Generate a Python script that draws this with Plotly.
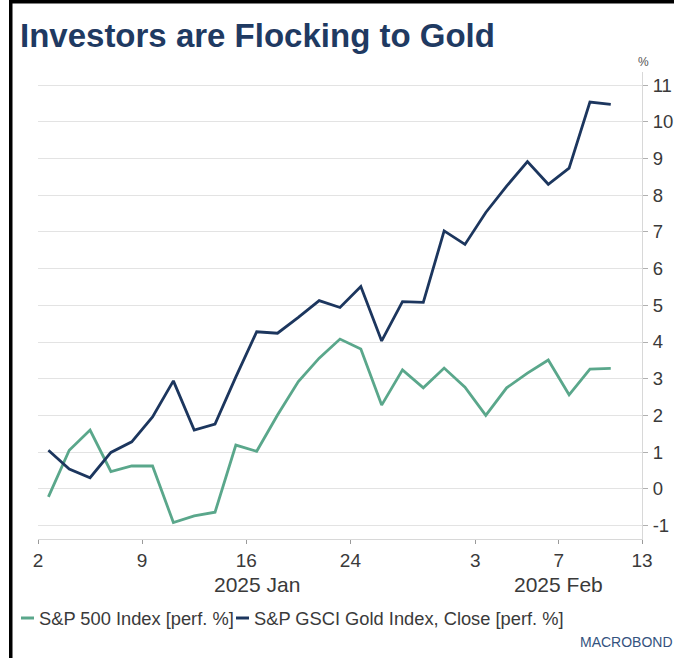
import pandas as pd
import plotly.graph_objects as go

# ---------------- data ----------------
title_text = "Investors are Flocking to Gold"
series_names = ["S&P 500 Index [perf. %]", "S&P GSCI Gold Index, Close [perf. %]"]

sp500_perf = [-0.22, 1.05, 1.60, 0.47, 0.62, 0.62, -0.92, -0.74, -0.64, 1.19,
              1.02, 2.01, 2.92, 3.56, 4.08, 3.81, 2.28, 3.24, 2.75, 3.29,
              2.77, 2.00, 2.75, 3.15, 3.51, 2.56, 3.26, 3.28]
gold_perf = [1.05, 0.54, 0.30, 0.99, 1.28, 1.96, 2.94, 1.60, 1.76, 3.05,
             4.28, 4.24, 4.67, 5.13, 4.94, 5.51, 4.03, 5.10, 5.08, 7.03,
             6.66, 7.53, 8.25, 8.92, 8.30, 8.74, 10.54, 10.48]

axis_start = "2025-01-02"
axis_end = "2025-02-13"
market_holidays = ["2025-01-20"]
x_tick_dates = ["2025-01-02", "2025-01-09", "2025-01-16", "2025-01-24",
                "2025-02-03", "2025-02-07", "2025-02-13"]
x_tick_labels = ["2", "9", "16", "24", "3", "7", "13"]
month_labels = ["2025 Jan", "2025 Feb"]
month_starts = ["2025-01-02", "2025-02-03"]
y_tick_values = list(range(-1, 12))
y_tick_labels = [str(v) for v in y_tick_values]

# ---------------- styles ----------------
GREEN = "#5aa78b"
NAVY = "#1c365e"
TITLE_COLOR = "#1f3a62"
TEXT = "#3a3a3a"
GRID = "#e3e3e3"
FONT = "Liberation Sans, Arial, sans-serif"

W, H = 674, 658
ML, MR, MT, MB = 38, 32, 72, 119
PW, PH = W - ML - MR, H - MT - MB


def px_x(x):
    return (x - ML) / PW


def px_y(y):
    return (H - MB - y) / PH


# trading-day slots (axis is a business-day axis, ticks sit at slot starts)
slots = [d for d in pd.bdate_range(axis_start, axis_end)
         if d.strftime("%Y-%m-%d") not in market_holidays]
slot_index = {d.strftime("%Y-%m-%d"): i for i, d in enumerate(slots)}
data_dates = [d.strftime("%Y-%m-%d") for d in slots[:len(sp500_perf)]]
x_idx = list(range(len(sp500_perf)))

fig = go.Figure()
fig.add_trace(go.Scatter(x=x_idx, y=sp500_perf, mode="lines", name=series_names[0],
                         customdata=data_dates,
                         hovertemplate="%{customdata}: %{y:.2f}%<extra></extra>",
                         line=dict(color=GREEN, width=2.8)))
fig.add_trace(go.Scatter(x=x_idx, y=gold_perf, mode="lines", name=series_names[1],
                         customdata=data_dates,
                         hovertemplate="%{customdata}: %{y:.2f}%<extra></extra>",
                         line=dict(color=NAVY, width=2.8)))

tickvals_x = [slot_index[d] - 0.5 for d in x_tick_dates]
x_range = [-0.5, slot_index[axis_end] - 0.5]

fig.update_layout(
    width=W, height=H,
    margin=dict(l=ML, r=MR, t=MT, b=MB, pad=0, autoexpand=False),
    paper_bgcolor="white", plot_bgcolor="white",
    showlegend=False,
    font=dict(family=FONT, color=TEXT),
    xaxis=dict(range=x_range, tickvals=tickvals_x, ticktext=x_tick_labels,
               showgrid=False, zeroline=False, showline=True, linecolor="#d8d8d8",
               linewidth=1, ticks="outside", ticklen=4, tickcolor="#9a9a9a",
               automargin=False,
               tickfont=dict(size=19, color=TEXT, family=FONT)),
    yaxis=dict(range=[-1.37, 11.36], side="right", tickvals=y_tick_values,
               ticktext=y_tick_labels, showgrid=True, gridcolor=GRID, gridwidth=1,
               zeroline=False, showline=True, linecolor="#d8d8d8", linewidth=1,
               ticks="outside", ticklen=5, tickcolor="#b0b0b0",
               ticklabelstandoff=1, automargin=False,
               tickfont=dict(size=18.5, color=TEXT, family=FONT)),
)

ann = []
# title
ann.append(dict(x=px_x(18), y=px_y(35), xref="paper", yref="paper",
                xanchor="left", yanchor="middle", showarrow=False,
                text=title_text,
                font=dict(size=33, color=TITLE_COLOR, family=FONT, weight="bold")))
# unit label
ann.append(dict(x=px_x(643), y=px_y(62), xref="paper", yref="paper",
                xanchor="center", yanchor="middle", showarrow=False, text="%",
                font=dict(size=12, color="#555555", family=FONT)))
# month labels centred on each month's span of slots
month_ends = [slot_index[month_starts[1]], slot_index[axis_end]]
for lbl, start, end_slot in zip(month_labels, month_starts, month_ends):
    ann.append(dict(x=(slot_index[start] + end_slot) / 2 - 0.5, y=px_y(584),
                    xref="x", yref="paper", xanchor="center", yanchor="middle",
                    showarrow=False, text=lbl,
                    font=dict(size=21, color=TEXT, family=FONT)))
# legend (line key + text)
legend_y = 618
LEG_SIZE = 18.3
ann.append(dict(x=px_x(37), y=px_y(legend_y), xref="paper", yref="paper",
                xanchor="left", yanchor="middle", showarrow=False, text=series_names[0],
                font=dict(size=LEG_SIZE, color=TEXT, family=FONT)))
ann.append(dict(x=px_x(252), y=px_y(legend_y), xref="paper", yref="paper",
                xanchor="left", yanchor="middle", showarrow=False, text=series_names[1],
                font=dict(size=LEG_SIZE, color=TEXT, family=FONT)))
# logo text
ann.append(dict(x=px_x(675), y=px_y(642), xref="paper", yref="paper",
                xanchor="right", yanchor="middle", showarrow=False, text="MACROBOND",
                font=dict(size=14, color="#34527e", family=FONT)))
fig.update_layout(annotations=ann)

shapes = []
shapes.append(dict(type="line", xref="paper", yref="paper",
                   x0=px_x(21), x1=px_x(34), y0=px_y(legend_y), y1=px_y(legend_y),
                   line=dict(color=GREEN, width=3)))
shapes.append(dict(type="line", xref="paper", yref="paper",
                   x0=px_x(236), x1=px_x(249), y0=px_y(legend_y), y1=px_y(legend_y),
                   line=dict(color=NAVY, width=3)))
# black frame (left and top)
shapes.append(dict(type="rect", xref="paper", yref="paper",
                   x0=px_x(9), x1=px_x(12.5), y0=px_y(H), y1=px_y(0),
                   fillcolor="black", line=dict(width=0), layer="above"))
shapes.append(dict(type="rect", xref="paper", yref="paper",
                   x0=px_x(9), x1=px_x(W), y0=px_y(3.5), y1=px_y(0),
                   fillcolor="black", line=dict(width=0), layer="above"))
fig.update_layout(shapes=shapes)

fig.write_html("out.html")
